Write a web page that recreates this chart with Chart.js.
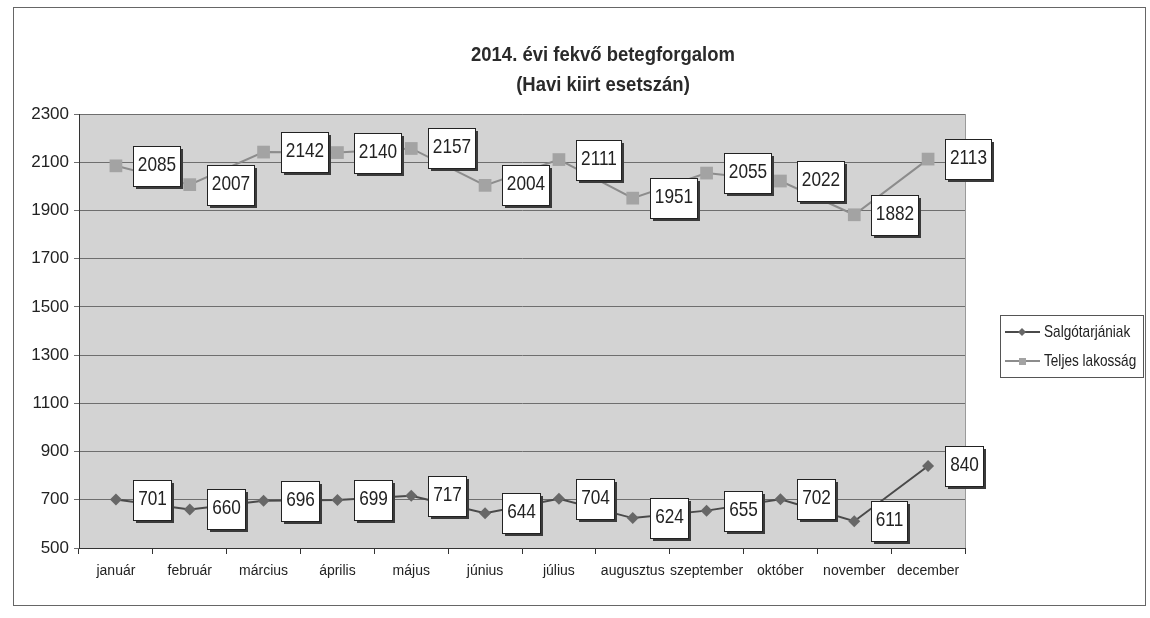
<!DOCTYPE html>
<html>
<head>
<meta charset="utf-8">
<script src="https://cdn.jsdelivr.net/npm/chart.js@4.4.1/dist/chart.umd.min.js"></script>
<style>
  html, body { margin: 0; padding: 0; background: #fff; }
</style>
</head>
<body>
<canvas id="myChart" width="1150" height="618"></canvas>
<script>
const months = ['január','február','március','április','május','június','július','augusztus','szeptember','október','november','december'];
const salgotarjan = [701, 660, 696, 699, 717, 644, 704, 624, 655, 702, 611, 840];
const teljes = [2085, 2007, 2142, 2140, 2157, 2004, 2111, 1951, 2055, 2022, 1882, 2113];
const titleLines = ['2014. évi fekvő betegforgalom', '(Havi kiirt esetszán)'];

const fam = "'Liberation Sans Narrow', 'Liberation Sans', Arial, sans-serif";

// narrow-looking text: squeeze horizontally
function narrowText(ctx, txt, x, y, sx) {
    ctx.save();
    ctx.translate(x, y);
    ctx.scale(sx, 1);
    ctx.fillText(txt, 0, 0);
    ctx.restore();
}

// frame, plot background, title, value boxes and legend
const decor = {
    id: 'decor',
    beforeDraw(chart) {
        const {ctx, chartArea: a} = chart;
        ctx.save();
        ctx.fillStyle = '#fff';
        ctx.fillRect(0, 0, chart.width, chart.height);
        ctx.strokeStyle = '#666';
        ctx.lineWidth = 1;
        ctx.strokeRect(13.5, 7.5, 1132, 598);
        ctx.fillStyle = '#d3d3d3';
        ctx.fillRect(a.left, a.top, a.right - a.left, a.bottom - a.top);
        ctx.strokeStyle = '#9a9a9a';
        ctx.strokeRect(a.left + 0.5, a.top + 0.5, a.right - a.left, a.bottom - a.top);

        ctx.fillStyle = '#2a2a2a';
        ctx.font = 'bold 21px ' + fam;
        ctx.textAlign = 'center';
        ctx.textBaseline = 'middle';
        titleLines.forEach((t, i) => narrowText(ctx, t, 603, 55 + i * 30, 0.88));
        ctx.restore();
    },
    afterDatasetsDraw(chart) {
        const ctx = chart.ctx;
        const sx = 0.82;
        ctx.save();
        ctx.font = '21px ' + fam;
        ctx.textAlign = 'center';
        ctx.textBaseline = 'middle';
        ctx.lineWidth = 1;
        chart.data.datasets.forEach((ds, di) => {
            chart.getDatasetMeta(di).data.forEach((pt, i) => {
                const txt = String(ds.data[i]);
                const w = Math.round(ctx.measureText(txt).width * sx + 9);
                const h = 40;
                const x = Math.round(pt.x + 17);
                const y = Math.round(pt.y - h / 2);
                ctx.fillStyle = '#3a3a3a';
                ctx.fillRect(x + 3, y + 3, w, h);
                ctx.fillStyle = '#fff';
                ctx.fillRect(x, y, w, h);
                ctx.strokeStyle = '#222';
                ctx.strokeRect(x + 0.5, y + 0.5, w, h);
                ctx.fillStyle = '#222';
                narrowText(ctx, txt, x + w / 2 + 0.5, y + h / 2 - 1, sx);
            });
        });
        ctx.restore();
    },
    afterDraw(chart) {
        const ctx = chart.ctx;
        const lx = 1000, ly = 315;
        ctx.save();
        ctx.fillStyle = '#fff';
        ctx.fillRect(lx, ly, 143, 62);
        ctx.strokeStyle = '#555';
        ctx.lineWidth = 1;
        ctx.strokeRect(lx + 0.5, ly + 0.5, 143, 62);
        ctx.font = '17px ' + fam;
        ctx.textAlign = 'left';
        ctx.textBaseline = 'middle';
        chart.data.datasets.forEach((ds, i) => {
            const y = ly + 17 + i * 29;
            ctx.strokeStyle = ds.borderColor;
            ctx.lineWidth = 2;
            ctx.beginPath();
            ctx.moveTo(lx + 5, y);
            ctx.lineTo(lx + 40, y);
            ctx.stroke();
            ctx.fillStyle = ds.backgroundColor;
            ctx.beginPath();
            if (ds.pointStyle === 'rectRot') {
                ctx.moveTo(lx + 22, y - 4);
                ctx.lineTo(lx + 26, y);
                ctx.lineTo(lx + 22, y + 4);
                ctx.lineTo(lx + 18, y);
            } else {
                ctx.rect(lx + 19, y - 3, 7, 7);
            }
            ctx.fill();
            ctx.fillStyle = '#222';
            narrowText(ctx, ds.label, lx + 44, y, 0.8);
        });
        ctx.restore();
    }
};

const ctx = document.getElementById('myChart').getContext('2d');
const myChart = new Chart(ctx, {
    type: 'line',
    data: {
        labels: months,
        datasets: [{
            label: 'Salgótarjániak',
            data: salgotarjan,
            borderColor: '#4a4a4a',
            backgroundColor: '#676767',
            pointStyle: 'rectRot',
            pointRadius: 6,
            pointBorderWidth: 0,
            borderWidth: 2,
            tension: 0
        }, {
            label: 'Teljes lakosság',
            data: teljes,
            borderColor: '#8c8c8c',
            backgroundColor: '#a3a3a3',
            pointStyle: 'rect',
            pointRadius: 9,
            pointBorderWidth: 0,
            borderWidth: 2,
            tension: 0
        }]
    },
    options: {
        responsive: false,
        animation: false,
        layout: {
            padding: {left: 20, right: 185, top: 114, bottom: 30}
        },
        plugins: {
            legend: {display: false},
            title: {display: false},
            tooltip: {enabled: false}
        },
        scales: {
            x: {
                offset: true,
                grid: {
                    offset: true,
                    drawOnChartArea: false,
                    tickLength: 6,
                    color: '#333'
                },
                border: {color: '#333'},
                ticks: {
                    color: '#222',
                    font: {family: fam, size: 14},
                    padding: 9,
                    maxRotation: 0,
                    autoSkip: false
                },
                afterFit: s => { s.height = 40; }
            },
            y: {
                min: 500,
                max: 2300,
                ticks: {
                    stepSize: 200,
                    color: '#222',
                    font: {family: fam, size: 17},
                    padding: 5,
                    callback: v => String(v)
                },
                grid: {
                    color: '#6e6e6e',
                    tickLength: 5
                },
                border: {color: '#333'},
                afterFit: s => { s.width = 59; }
            }
        }
    },
    plugins: [decor]
});
</script>
</body>
</html>
